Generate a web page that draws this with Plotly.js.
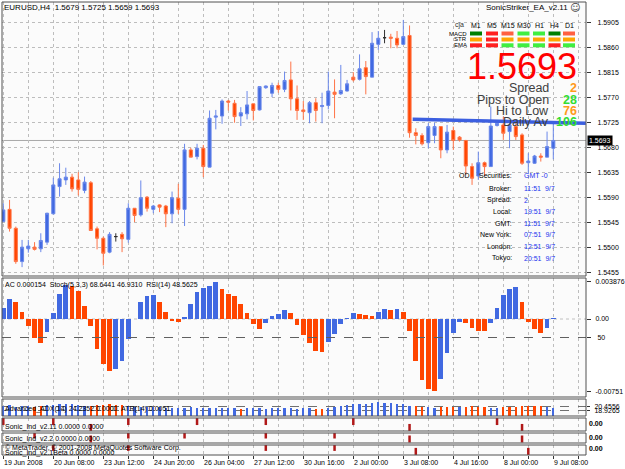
<!DOCTYPE html>
<html><head><meta charset="utf-8">
<script src="https://cdn.plot.ly/plotly-3.0.1.min.js"></script>
<style>html,body{margin:0;padding:0;background:#fff;}#chart{width:625px;height:469px;}</style>
</head><body><div id="chart"></div>
<script>
const symbol = 'EURUSD,H4';
const tickBars = [0, 8, 16, 24, 32, 40, 48, 56, 64, 72, 80, 88];
const tickLabels = ['19 Jun 2008','20 Jun 08:00','23 Jun 12:00','24 Jun 20:00','26 Jun 04:00','27 Jun 12:00','30 Jun 16:00','2 Jul 00:00','3 Jul 08:00','4 Jul 16:00','8 Jul 00:00','9 Jul 08:00'];
const priceTicks = [1.5455,1.5500,1.5545,1.5590,1.5635,1.5680,1.5725,1.5770,1.5815,1.5860,1.5905];

const open  = [1.5547,1.5569,1.5535,1.5475,1.5498,1.5501,1.5498,1.5510,1.5561,1.5610,1.5622,1.5627,1.5622,1.5603,1.5617,1.5534,1.5517,1.5492,1.5520,1.5524,1.5515,1.5571,1.5559,1.5591,1.5569,1.5577,1.5575,1.5561,1.5589,1.5569,1.5676,1.5664,1.5679,1.5645,1.5735,1.5737,1.5764,1.5760,1.5737,1.5741,1.5759,1.5748,1.5788,1.5778,1.5792,1.5785,1.5802,1.5768,1.5748,1.5743,1.5761,1.5754,1.5756,1.5780,1.5777,1.5782,1.5807,1.5803,1.5824,1.5807,1.5866,1.5878,1.5879,1.5877,1.5866,1.5882,1.5707,1.5702,1.5689,1.5702,1.5718,1.5676,1.5711,1.5699,1.5693,1.5646,1.5629,1.5653,1.5646,1.5720,1.5721,1.5709,1.5718,1.5703,1.5653,1.5652,1.5665,1.5663,1.5679];
const high  = [1.5580,1.5586,1.5538,1.5514,1.5514,1.5510,1.5526,1.5563,1.5626,1.5652,1.5644,1.5633,1.5636,1.5628,1.5620,1.5538,1.5520,1.5528,1.5526,1.5528,1.5580,1.5571,1.5621,1.5593,1.5577,1.5578,1.5577,1.5601,1.5615,1.5687,1.5680,1.5687,1.5685,1.5747,1.5748,1.5767,1.5766,1.5766,1.5753,1.5782,1.5759,1.5790,1.5792,1.5797,1.5797,1.5817,1.5835,1.5792,1.5764,1.5764,1.5769,1.5779,1.5817,1.5803,1.5829,1.5802,1.5816,1.5848,1.5836,1.5888,1.5890,1.5892,1.5885,1.5890,1.5910,1.5900,1.5715,1.5706,1.5724,1.5725,1.5719,1.5721,1.5718,1.5701,1.5694,1.5652,1.5673,1.5655,1.5754,1.5727,1.5736,1.5730,1.5724,1.5706,1.5670,1.5667,1.5670,1.5709,1.5725];
const low   = [1.5546,1.5529,1.5471,1.5465,1.5491,1.5495,1.5492,1.5505,1.5560,1.5592,1.5613,1.5601,1.5594,1.5598,1.5531,1.5497,1.5468,1.5490,1.5511,1.5492,1.5509,1.5546,1.5556,1.5565,1.5562,1.5564,1.5537,1.5544,1.5561,1.5539,1.5663,1.5659,1.5627,1.5645,1.5713,1.5723,1.5747,1.5725,1.5719,1.5731,1.5729,1.5747,1.5786,1.5771,1.5779,1.5780,1.5747,1.5730,1.5730,1.5724,1.5727,1.5724,1.5749,1.5733,1.5775,1.5781,1.5799,1.5801,1.5776,1.5807,1.5856,1.5868,1.5859,1.5859,1.5865,1.5698,1.5686,1.5684,1.5679,1.5688,1.5661,1.5670,1.5676,1.5691,1.5631,1.5613,1.5622,1.5629,1.5646,1.5718,1.5694,1.5679,1.5694,1.5649,1.5634,1.5651,1.5655,1.5663,1.5659];
const close = [1.5568,1.5535,1.5475,1.5501,1.5503,1.5497,1.5513,1.5562,1.5613,1.5624,1.5627,1.5606,1.5605,1.5618,1.5531,1.5517,1.5490,1.5524,1.5520,1.5516,1.5571,1.5558,1.5590,1.5571,1.5575,1.5573,1.5561,1.5590,1.5569,1.5676,1.5663,1.5679,1.5646,1.5733,1.5737,1.5764,1.5762,1.5736,1.5743,1.5757,1.5747,1.5790,1.5791,1.5792,1.5785,1.5801,1.5768,1.5747,1.5745,1.5761,1.5747,1.5756,1.5782,1.5776,1.5783,1.5795,1.5802,1.5822,1.5808,1.5868,1.5877,1.5878,1.5877,1.5865,1.5880,1.5707,1.5702,1.5687,1.5718,1.5718,1.5676,1.5708,1.5693,1.5694,1.5647,1.5625,1.5653,1.5646,1.5719,1.5724,1.5706,1.5721,1.5700,1.5652,1.5656,1.5665,1.5663,1.5682,1.5693];

const acValues = [0.00118,0.00205,0.00174,0.00069,-0.00069,-0.00194,-0.00253,-0.00139,0.00066,0.00257,0.00354,0.00347,0.00295,0.00139,-0.00073,-0.00312,-0.00468,-0.00538,-0.00521,-0.00434,-0.00208,0.00002,0.00174,0.00243,0.00250,0.00174,0.00076,-0.00017,-0.00035,0.00024,0.00156,0.00285,0.00319,0.00347,0.003876,0.00312,0.00260,0.00243,0.00156,0.00059,-0.00052,-0.00101,-0.00045,0.00031,0.00052,0.00094,0.00059,-0.00062,-0.00167,-0.00253,-0.00330,-0.00340,-0.00236,-0.00156,-0.00052,0.00014,0.00059,0.00057,0.00042,0.00031,0.00076,0.00104,0.00090,0.00104,0.00073,-0.00125,-0.00434,-0.00635,-0.00732,-0.00751,-0.00628,-0.00357,-0.00149,-0.00028,-0.00045,-0.00090,-0.00121,-0.00125,-0.00045,0.00111,0.00250,0.00309,0.00337,0.00174,-0.00028,-0.00108,-0.00142,-0.00097,0.000154];
const acTicks = [0.003876, 0, -0.00751];
const acTickText = ['0.003876', '0.00', '-0.00751'];
const oscLevel = 50;
const acLabel = 'AC 0.000154  Stoch(5,3,3) 68.6441 46.9310  RSI(14) 48.5625';

const adxValues = [20.6,20.9,20.4,20.7,20.5,20.3,20.6,20.9,21.2,21.4,21.5,21.3,21.1,20.8,20.6,20.9,21.2,21.4,21.2,20.9,20.6,20.3,20.1,20.2,20.4,20.2,20.0,19.9,19.8,19.9,20.1,20.0,19.8,19.9,20.0,19.9,19.8,19.7,19.6,19.7,19.8,19.7,19.6,19.7,19.8,19.9,19.7,19.6,19.8,19.7,19.6,19.6,19.9,20.3,20.8,21.0,21.3,21.4,21.6,21.8,22.0,21.9,21.8,21.6,21.4,20.8,20.6,20.4,20.1,19.9,20.2,20.4,20.3,20.1,20.3,20.5,20.4,20.2,20.0,19.9,20.1,20.3,20.4,20.6,20.8,20.7,20.5,20.2,19.9];
const adxDir = [1,1,1,1,1,-1,-1,1,1,1,1,1,1,1,-1,-1,-1,-1,-1,-1,1,1,1,1,1,1,1,1,1,1,1,1,1,1,1,1,1,1,-1,1,1,1,1,1,1,1,1,1,1,1,-1,-1,1,1,1,1,1,1,1,1,1,1,1,1,1,1,-1,-1,1,1,-1,-1,-1,1,-1,-1,-1,-1,1,1,-1,-1,-1,-1,-1,-1,-1,1,1];
const adxTicks = [20.4556, 18.9265];
const adxLabel = 'Advanced_ADX(14) 24.2352 0.0000  ATR(14) 0.0051';

const sonic211Bars = [0, 8, 14, 20, 31, 42, 56, 65, 79, 83];
const sonic211Lvl  = [1, 1, 0, 1, 1, 1, 1, 0, 1, 0];
const sonic22Bars  = [5, 14, 20, 29, 42, 53, 65, 83];
const sonic22Lvl   = [1, 0, 1, 1, 1, 1, 0, 0];
const sonic21Bars  = [8, 20, 42, 53, 66, 84];
const sonic21Lvl   = [1, 1, 1, 1, 0, 0];
const sonicLabels = ['Sonic_Ind_v2.11 0.0000 0.0000', 'Sonic_Ind_v2.2 0.0000 0.0000', 'Sonic_Ind_v2.1Beta 0.0000 0.0000'];
const copyright = '© MetaTrader, © 2001-2008 MetaQuotes Software Corp.';

const avgLineBars = [65.5, 93.2];
const avgLinePrices = [1.5731, 1.5724];

const eaTitle = 'SonicStriker_EA_v2.11';
const timeframes = ['M1','M5','M15','M30','H1','H4','D1'];
const rowNames = ['MACD','STR','EMA'];
const macdRow = ['#008000','#ff2020','#ff6040','#40ee40','#40ee40','#008000','#ff6040'];
const strRow  = ['#ffa500','#ff2020','#ffa500','#ffa500','#ffa500','#ffa500','#ffa500'];
const emaRow  = ['#ff2020','#ff2020','#40ee40','#40ee40','#40ee40','#ff2020','#40ee40'];
const statLabels = ['Spread','Pips to Open','Hi to Low','Daily Av'];
const statValues = ['2','28','76','106'];
const statColors = ['#ff9a1a','#33dd33','#ff9a1a','#33dd33'];
const infoLabels = ['Securities:','Broker:','Spread:','Local:','GMT:','New York:','London:','Tokyo:'];
const infoValues = ['GMT -0','11:51  9/7','2','19:51  9/7','11:51  9/7','07:51  9/7','12:51  9/7','20:51  9/7'];

// ---------- layout helpers (pixel geometry) ----------
const L = 2, R = 586, T = 2, B = 455;
const px = x => (x - L) / (R - L);
const py = y => (B - y) / (B - T);
const dom = (top, bot) => [py(bot), py(top)];
const FONT = 'Liberation Sans, Arial, sans-serif';
const BLUE = '#4169e1', RED = '#ff4500';

const idx = open.map((_, i) => i);
const n = open.length;
const last = n - 1;

const reg = idx.filter(i => open[i] !== close[i]);
const doj = idx.filter(i => open[i] === close[i]);
const pick = (arr, ids) => ids.map(i => arr[i]);

const traces = [];
traces.push({
  type: 'candlestick', x: pick(idx, reg), open: pick(open, reg), high: pick(high, reg), low: pick(low, reg), close: pick(close, reg),
  xaxis: 'x', yaxis: 'y',
  increasing: {fillcolor: BLUE, line: {color: '#6a88ea', width: 1}},
  decreasing: {fillcolor: RED, line: {color: '#ff7447', width: 1}},
  whiskerwidth: 0, hoverinfo: 'skip', showlegend: false
});
traces.push({
  type: 'candlestick', x: pick(idx, doj), open: pick(open, doj), high: pick(high, doj), low: pick(low, doj), close: pick(close, doj),
  xaxis: 'x', yaxis: 'y',
  increasing: {fillcolor: '#303030', line: {color: '#303030', width: 1}},
  decreasing: {fillcolor: '#303030', line: {color: '#303030', width: 1}},
  whiskerwidth: 0, hoverinfo: 'skip', showlegend: false
});
traces.push({
  type: 'scatter', mode: 'lines', x: avgLineBars, y: avgLinePrices, xaxis: 'x', yaxis: 'y',
  line: {color: '#3c5fe0', width: 3.5}, hoverinfo: 'skip', showlegend: false
});
const acColors = acValues.map((v, i) => (i === 0 || v > acValues[i - 1]) ? BLUE : RED);
traces.push({
  type: 'bar', x: idx, y: acValues, xaxis: 'x', yaxis: 'y2', width: 0.74,
  marker: {color: acColors, line: {width: 0}}, hoverinfo: 'skip', showlegend: false
});
traces.push({
  type: 'bar', x: idx, y: adxValues, xaxis: 'x', yaxis: 'y4', width: 0.36,
  marker: {color: adxDir.map(d => d > 0 ? BLUE : RED), line: {width: 0}}, hoverinfo: 'skip', showlegend: false
});
[[sonic211Bars, sonic211Lvl, 'y5'], [sonic22Bars, sonic22Lvl, 'y6'], [sonic21Bars, sonic21Lvl, 'y7']].forEach(([xs, ys, ya]) => {
  traces.push({
    type: 'scatter', mode: 'markers', x: xs, y: ys, xaxis: 'x', yaxis: ya,
    marker: {symbol: 'line-ns', size: 5, line: {width: 2.5, color: '#b01818'}},
    hoverinfo: 'skip', showlegend: false
  });
});

const gridStyle = {showgrid: true, gridcolor: '#bdbdbd', griddash: 'dot', gridwidth: 1};
const tickFont = {family: FONT, size: 7, color: '#000'};
const yBase = {side: 'right', anchor: 'x', zeroline: false, fixedrange: true, ticks: 'outside', ticklen: 4, tickcolor: '#333', tickfont: tickFont, ticklabelstandoff: 5, showline: false};

const gridTicks = [];
for (let b = 0; b <= 92; b += 4) gridTicks.push(b);

const layout = {
  width: 625, height: 469,
  margin: {l: L, r: 625 - R, t: T, b: 469 - B},
  paper_bgcolor: '#ffffff', plot_bgcolor: '#fbfbfb',
  showlegend: false, dragmode: false, bargap: 0,
  xaxis: Object.assign({
    domain: [0, 1], anchor: 'y7', range: [(L - 3.3) / 6.25, (R - 3.3) / 6.25],
    tickvals: gridTicks, showticklabels: false, ticks: 'outside', ticklen: 3, tickcolor: '#333',
    zeroline: false, fixedrange: true, rangeslider: {visible: false}, showline: false
  }, gridStyle),
  yaxis: Object.assign({}, yBase, gridStyle, {
    domain: dom(2, 276), range: [1.5905 - (276 - 22.7) * 0.00018, 1.5905 + (22.7 - 2) * 0.00018],
    tickvals: priceTicks, tickformat: '.4f'
  }),
  yaxis2: Object.assign({}, yBase, {
    domain: dom(278, 397), range: [-(397 - 319) * 0.000104, (319 - 278) * 0.000104],
    tickvals: acTicks, ticktext: acTickText, showgrid: false, ticklabelstandoff: 3
  }),
  yaxis3: Object.assign({}, yBase, {
    overlaying: 'y2', range: [0, 100], tickvals: [oscLevel], ticktext: [String(oscLevel)], showgrid: false
  }),
  yaxis4: Object.assign({}, yBase, {
    domain: dom(399, 416), range: [16.83, 23.32], tickvals: adxTicks, ticktext: adxTicks.map(v => v.toFixed(4)),
    showgrid: true, gridcolor: '#707070', griddash: 'dash', gridwidth: 1, ticklen: 3, ticklabelstandoff: 3
  }),
  yaxis5: Object.assign({}, yBase, {domain: dom(418, 431), range: [-0.6, 1.6], showticklabels: false, ticks: '', showgrid: false}),
  yaxis6: Object.assign({}, yBase, {domain: dom(433, 443), range: [-1, 1.5], showticklabels: false, ticks: '', showgrid: false}),
  yaxis7: Object.assign({}, yBase, {domain: dom(445, 455), range: [-0.9, 1.6], showticklabels: false, ticks: '', showgrid: false}),
  shapes: [], annotations: []
};

const S = layout.shapes, A = layout.annotations;
S.push({type: 'line', xref: 'paper', x0: 0, x1: 1, yref: 'y', y0: close[last], y1: close[last], line: {color: '#a8a8a8', width: 1}, layer: 'below'});
S.push({type: 'line', xref: 'paper', x0: 0, x1: 1, yref: 'y2', y0: 0, y1: 0, line: {color: '#c0c0c0', width: 1, dash: 'dot'}, layer: 'below'});
S.push({type: 'line', xref: 'paper', x0: 0, x1: 1, yref: 'y3', y0: oscLevel, y1: oscLevel, line: {color: '#606060', width: 1, dash: 'dash'}});
['y', 'y2', 'y4', 'y5', 'y6', 'y7'].forEach(ya => {
  S.push({type: 'rect', xref: 'paper', x0: 0, x1: 1, yref: ya + ' domain', y0: 0, y1: 1, line: {color: '#505050', width: 1}, fillcolor: 'rgba(0,0,0,0)'});
});

const ann = (text, x, y, opts) => Object.assign({
  text, xref: 'paper', yref: 'paper', x: px(x), y: py(y), showarrow: false,
  xanchor: 'left', yanchor: 'middle', font: {family: FONT, size: 7, color: '#000'}, borderpad: 0
}, opts || {});

A.push(ann(`${symbol}  ${open[last].toFixed(4)} ${high[last].toFixed(4)} ${low[last].toFixed(4)} ${close[last].toFixed(4)}`, 3, 8, {font: {family: FONT, size: 8, color: '#000'}}));
A.push(ann(eaTitle, 569, 8, {xanchor: 'right', font: {family: FONT, size: 8, color: '#000'}}));
A.push(ann('☺', 575, 8, {xanchor: 'center', font: {family: 'DejaVu Sans', size: 10, color: '#444'}}));
const colX = [476, 492, 507.5, 523.5, 539, 554.5, 569];
A.push(ann('cja', 459, 25, {xanchor: 'center', font: {family: FONT, size: 7, color: '#333'}}));
timeframes.forEach((t, k) => A.push(ann(t, colX[k], 25, {xanchor: 'center', font: {family: FONT, size: 7, color: '#000'}})));
const rowY = [33.5, 39.5, 45.3];
[macdRow, strRow, emaRow].forEach((row, r) => {
  A.push(ann(rowNames[r], 468, rowY[r], {xanchor: 'right', font: {family: FONT, size: 6, color: '#000'}}));
  row.forEach((c, k) => S.push({type: 'rect', xref: 'paper', yref: 'paper', x0: px(colX[k] - 6), x1: px(colX[k] + 6), y0: py(rowY[r] + 2), y1: py(rowY[r] - 2), fillcolor: c, line: {width: 0}}));
});
A.push(ann(close[last].toFixed(4), 578, 67, {xanchor: 'right', font: {family: FONT, size: 36, color: '#ff0000'}}));
const statY = [88, 99.5, 111, 122];
statLabels.forEach((s, k) => {
  A.push(ann(s, 550, statY[k], {xanchor: 'right', font: {family: FONT, size: 12.5, color: '#404040'}}));
  A.push(ann('<b>' + statValues[k] + '</b>', 578, statY[k], {xanchor: 'right', font: {family: FONT, size: 12.5, color: statColors[k]}}));
});
const infoY = [176, 188, 200, 211.5, 223, 235, 246.5, 258];
A.push(ann('OD', 458, infoY[0], {font: {family: FONT, size: 7, color: '#000'}}));
infoLabels.forEach((s, k) => {
  A.push(ann(s, 512.5, infoY[k], {xanchor: 'right', font: {family: FONT, size: 7, color: '#000'}}));
  A.push(ann(infoValues[k], 523, infoY[k], {font: {family: FONT, size: 7, color: '#2233ee'}}));
});
A.push({text: close[last].toFixed(4), xref: 'paper', x: 1, xanchor: 'left', xshift: 1, yref: 'y', y: close[last], yanchor: 'middle',
  showarrow: false, bgcolor: '#000', borderpad: 1, font: {family: FONT, size: 7, color: '#fff'}});
A.push(ann(acLabel, 4, 285));
A.push(ann(adxLabel, 4, 408.5));
A.push(ann(sonicLabels[0], 4, 427));
A.push(ann(sonicLabels[1], 4, 438.5));
A.push(ann(copyright, 4, 448));
A.push(ann(sonicLabels[2], 4, 452.5));
[423, 437, 448.5].forEach(y => A.push(ann('<b>0.00</b>', 588, y, {font: {family: FONT, size: 7, color: '#000'}})));
tickBars.forEach((b, k) => A.push({text: tickLabels[k], xref: 'x', x: b, xanchor: 'left', xshift: -1, yref: 'paper', y: py(462), yanchor: 'middle',
  showarrow: false, font: {family: FONT, size: 7, color: '#000'}}));

Plotly.newPlot('chart', traces, layout, {staticPlot: true, displayModeBar: false});
</script>
</body></html>
